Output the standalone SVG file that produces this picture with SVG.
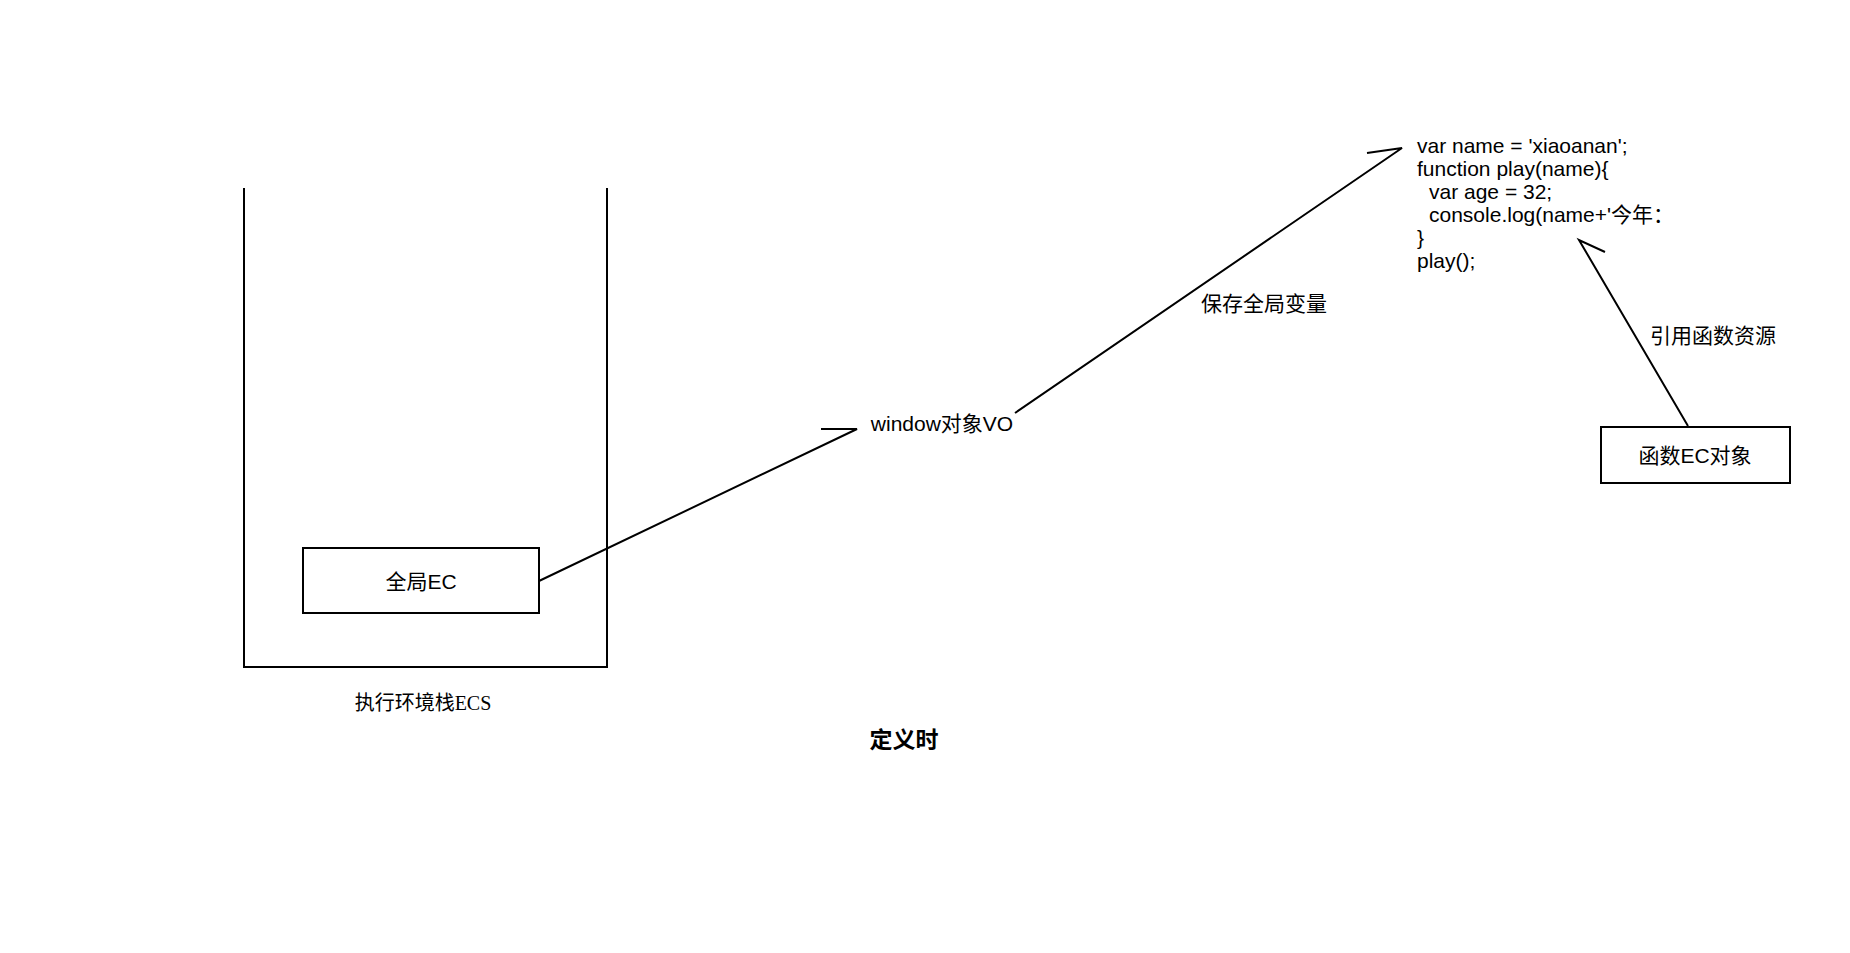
<svg xmlns="http://www.w3.org/2000/svg" width="1850" height="953" viewBox="0 0 1850 953">
<style>
.s{fill:none;stroke:#000;stroke-width:2}
.t{font-family:"Liberation Sans","Noto Sans CJK SC",sans-serif;font-size:21px;fill:#000}
.c{text-anchor:middle;dominant-baseline:central}
.serif{font-family:"Liberation Serif","Noto Sans CJK SC",serif;font-size:20px}
</style>
<rect width="1850" height="953" fill="#fff"/>
<g id="ecs">
<path class="s" d="M244,188V667H607V188"/>
<text class="t c serif" x="423" y="703">执行环境栈ECS</text>
</g>
<g id="global-ec">
<rect class="s" x="303" y="548" width="236" height="65"/>
<text class="t c" x="421" y="581">全局EC</text>
</g>
<g id="window-vo">
<text class="t c" x="942" y="423">window对象VO</text>
</g>
<g id="code">
<text class="t" x="1417" y="153">var name = 'xiaoanan';</text>
<text class="t" x="1417" y="176">function play(name){</text>
<text class="t" x="1429" y="199">var age = 32;</text>
<text class="t" x="1429" y="222">console.log(name+'今年：</text>
<text class="t" x="1417" y="245">}</text>
<text class="t" x="1417" y="268">play();</text>
</g>
<g id="function-ec">
<rect class="s" x="1601" y="427" width="189" height="56"/>
<text class="t c" x="1695" y="455">函数EC对象</text>
</g>
<g id="connectors">
<path class="s" d="M539,581L857,429H821"/>
<path class="s" d="M1015,413L1402,148L1367,153"/>
<text class="t c" x="1264" y="303">保存全局变量</text>
<path class="s" d="M1688,426L1579,240L1605,252"/>
<text class="t c" x="1713" y="335">引用函数资源</text>
</g>
<g id="caption">
<text class="t c" x="904" y="740" style="font-size:23px;font-weight:bold">定义时</text>
</g>
</svg>
